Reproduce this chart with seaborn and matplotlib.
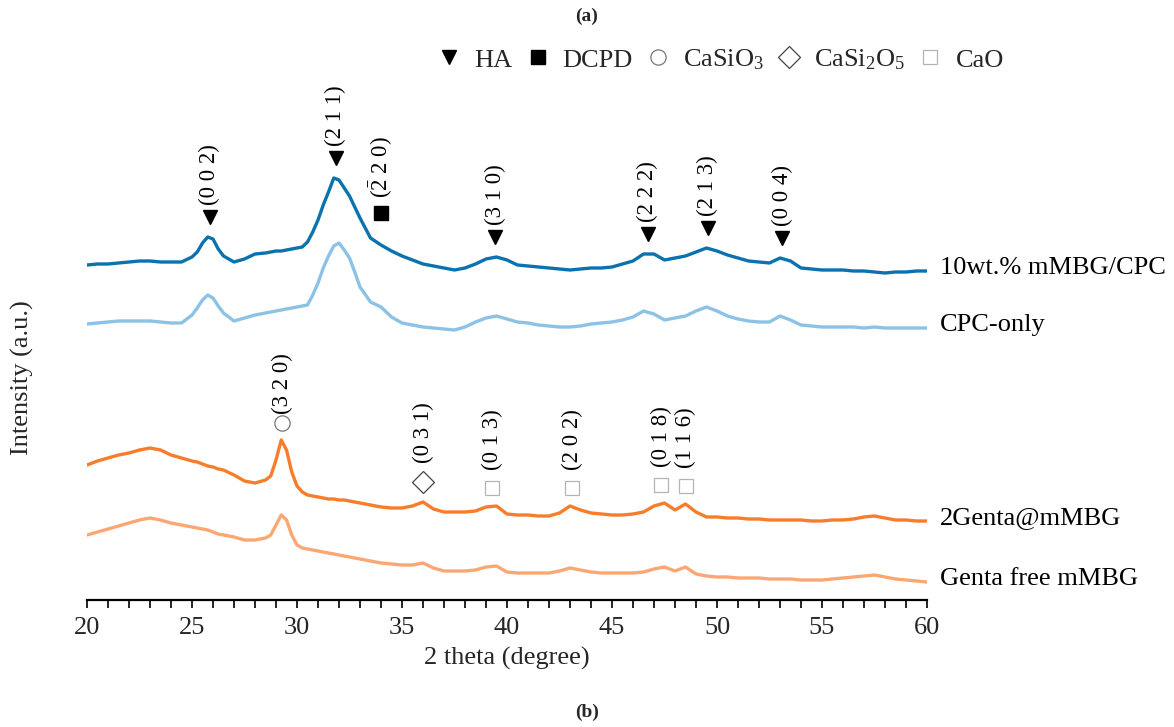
import numpy as np
import matplotlib
matplotlib.use("Agg")
import matplotlib.pyplot as plt
from matplotlib.lines import Line2D
from matplotlib.ticker import MultipleLocator
import seaborn as sns

# ---------------- data ----------------
two_theta = ([20, 20.5, 21, 21.5, 22, 22.5, 23, 23.5, 24, 24.5, 25]
             + [25.25, 25.5, 25.75, 26, 26.25, 26.5]
             + [27, 27.5, 28, 28.5]
             + [28.75, 29, 29.25, 29.5, 29.75, 30, 30.25, 30.5, 30.75, 31,
                31.25, 31.5, 31.75, 32, 32.25, 32.5, 32.75, 33]
             + [33.5, 34, 34.5, 35, 35.5, 36, 36.5, 37, 37.5, 38, 38.5, 39, 39.5,
                40, 40.5, 41, 41.5, 42, 42.5, 43, 43.5, 44, 44.5, 45, 45.5, 46, 46.5,
                47, 47.5, 48, 48.5, 49, 49.5, 50, 50.5, 51, 51.5, 52, 52.5, 53, 53.5,
                54, 54.5, 55, 55.5, 56, 56.5, 57, 57.5, 58, 58.5, 59, 59.5, 60])

mmbg_cpc = ([335, 336, 336, 337, 338, 339, 339, 338, 338, 338, 343]
            + [348, 357, 363, 361, 351, 344]
            + [338, 341, 346, 347]
            + [348, 349, 349, 350, 351, 352, 353, 358, 368, 380, 395, 408, 422,
               420, 412, 404, 393, 382]
            + [362, 355, 349, 344, 340, 336, 334, 332, 330, 332, 336, 341, 343,
               340, 335, 334, 333, 332, 331, 330, 331, 332, 332, 333, 336, 339, 346,
               346, 340, 342, 344, 348, 352, 349, 345, 342, 339, 338, 337, 342, 339,
               332, 331, 330, 330, 330, 329, 329, 328, 327, 328, 328, 329, 329])

cpc_only = ([276, 277, 278, 279, 279, 279, 279, 278, 277, 277, 285]
            + [292, 300, 305, 302, 294, 287]
            + [279, 282, 285, 287]
            + [288, 289, 290, 291, 292, 293, 294, 295, 305, 317, 332, 344, 354,
               357, 350, 342, 328, 313]
            + [298, 293, 283, 277, 275, 273, 272, 271, 270, 273, 278, 282, 284,
               281, 278, 277, 275, 274, 273, 273, 274, 276, 277, 278, 280, 283, 289,
               286, 280, 282, 284, 289, 293, 289, 284, 281, 279, 278, 278, 284, 280,
               275, 274, 273, 273, 273, 273, 272, 273, 272, 272, 272, 272, 272])

genta_mmbg = ([135, 139, 142, 145, 147, 150, 152, 150, 145, 142, 139]
              + [138, 136, 134, 133, 131, 130]
              + [125, 119, 117, 120]
              + [124, 140, 160, 150, 128, 114, 108, 105, 104, 103, 102, 101, 101,
                 100, 100, 99, 98, 97]
              + [95, 93, 92, 92, 94, 98, 91, 88, 88, 88, 89, 93, 94,
                 86, 85, 85, 84, 84, 87, 94, 90, 87, 86, 85, 85, 86, 88,
                 94, 97, 90, 96, 88, 83, 83, 82, 82, 81, 81, 80, 80, 80,
                 80, 79, 79, 80, 80, 81, 83, 84, 82, 80, 80, 79, 79])

genta_free = ([65, 68, 71, 74, 77, 80, 82, 80, 77, 75, 73]
              + [72, 71, 70, 68, 66, 65]
              + [63, 60, 60, 62]
              + [65, 75, 85, 80, 65, 55, 52, 51, 50, 49, 48, 47, 46, 45, 44, 43,
                 42, 41]
              + [39, 37, 36, 35, 35, 37, 32, 29, 29, 29, 30, 33, 34,
                 28, 27, 27, 27, 27, 29, 32, 30, 28, 27, 27, 27, 27, 28,
                 31, 33, 29, 33, 26, 24, 23, 23, 22, 22, 22, 21, 21, 21,
                 20, 20, 20, 21, 22, 23, 24, 25, 23, 21, 20, 19, 18])

series_names = ["10wt.% mMBG/CPC", "CPC-only", "2Genta@mMBG", "Genta free mMBG"]
series_values = [mmbg_cpc, cpc_only, genta_mmbg, genta_free]
series_colors = ["#0a72ae", "#8cc2e6", "#f77d2b", "#fba774"]

for v in series_values:
    assert len(v) == len(two_theta), (len(v), len(two_theta))

# peak annotations: (position, label)
ha_peaks = [25.85, 31.85, 39.45, 46.7, 49.55, 53.1]
ha_labels = ["(0 0 2)", "(2 1 1)", "(3 1 0)", "(2 2 2)", "(2 1 3)", "(0 0 4)"]
dcpd_peaks = [34.0]
dcpd_labels = [r"($\bar{2}$ 2 0)"]
casio3_peaks = [29.3]
casio3_labels = ["(3 2 0)"]
casi2o5_peaks = [36.0]
casi2o5_labels = ["(0 3 1)"]
cao_peaks = [39.3, 43.1, 47.35, 48.5]
cao_labels = ["(0 1 3)", "(2 0 2)", "(0 1 8)", "(1 1 6)"]

legend_names = ["HA", "DCPD", "CaSiO$_3$", "CaSi$_2$O$_5$", "CaO"]

# ---------------- style ----------------
sns.set_theme(style="white")
plt.rcParams["font.family"] = ["Liberation Serif", "DejaVu Serif"]
plt.rcParams["mathtext.fontset"] = "custom"
plt.rcParams["mathtext.rm"] = "Liberation Serif"
plt.rcParams["mathtext.it"] = "Liberation Serif:italic"
plt.rcParams["mathtext.bf"] = "Liberation Serif:bold"

W, H = 1174, 727
fig = plt.figure(figsize=(W / 100, H / 100), dpi=100)
ax_left, ax_right, ax_bottom_px, ax_top_px = 87, 927, 600, 80
ax = fig.add_axes([ax_left / W, (H - ax_bottom_px) / H,
                   (ax_right - ax_left) / W, (ax_bottom_px - ax_top_px) / H])

x = np.array(two_theta, dtype=float)
for name, vals, col in zip(series_names, series_values, series_colors):
    sns.lineplot(x=x, y=np.array(vals, dtype=float), ax=ax, color=col,
                 linewidth=2.4, sort=False, estimator=None)
    ax.annotate(name, xy=(x[-1], vals[-1]), xytext=(9, 2),
                textcoords="offset points", ha="left", va="center",
                fontsize=19, color="black", annotation_clip=False)

ax.set_xlim(20, 60)
ax.set_ylim(0, ax_bottom_px - ax_top_px)


def mark(peaks, labels, series, marker, mkw, off, gap):
    vals = np.array(series, dtype=float)
    for p, lab in zip(peaks, labels):
        win = (x >= p - 0.4) & (x <= p + 0.4)
        top = vals[win].max() if win.any() else np.interp(p, x, vals)
        ym = top + off
        ax.plot([p], [ym], marker=marker, linestyle="none", clip_on=False, **mkw)
        ax.text(p, ym + gap, lab, rotation=90, ha="center", va="bottom",
                fontsize=16.5, color="black", clip_on=False)


tri = dict(color="black", markersize=10)
sq = dict(color="black", markersize=10)
circ = dict(markerfacecolor="white", markeredgecolor="#777777", markeredgewidth=0.9,
            markersize=11)
dia = dict(markerfacecolor="white", markeredgecolor="#444444", markeredgewidth=0.9,
           markersize=11)
osq = dict(markerfacecolor="white", markeredgecolor="#b5b5b5", markeredgewidth=0.9,
           markersize=10)

mark(ha_peaks, ha_labels, mmbg_cpc, "v", tri, 20, 12)
mark(dcpd_peaks, dcpd_labels, mmbg_cpc, "s", sq, 32, 15)
mark(casio3_peaks, casio3_labels, genta_mmbg, "o", circ, 17, 9)
mark(casi2o5_peaks, casi2o5_labels, genta_mmbg, "D", dia, 20, 19)
mark(cao_peaks, cao_labels, genta_mmbg, "s", osq, 18, 18)

# axes styling
for s in ["left", "top", "right"]:
    ax.spines[s].set_visible(False)
ax.spines["bottom"].set_color("black")
ax.spines["bottom"].set_linewidth(1.6)
ax.xaxis.set_major_locator(MultipleLocator(5))
ax.xaxis.set_minor_locator(MultipleLocator(1))
ax.tick_params(axis="x", which="both", direction="out", length=6, width=1.2,
               color="black", bottom=True, labelsize=19, pad=6)
ax.tick_params(axis="y", left=False, labelleft=False)
ax.set_xlabel("2 theta (degree)", fontsize=19, labelpad=6)
ax.set_ylabel("Intensity (a.u.)", fontsize=19)
ax.yaxis.set_label_coords(-0.063, 0.427)
ax.set_facecolor("white")
fig.patch.set_facecolor("white")

# legend
handles = [
    Line2D([], [], marker="v", linestyle="none", **tri),
    Line2D([], [], marker="s", linestyle="none", **sq),
    Line2D([], [], marker="o", linestyle="none", **circ),
    Line2D([], [], marker="D", linestyle="none", **dia),
    Line2D([], [], marker="s", linestyle="none", **osq),
]
fig.legend(handles, legend_names, loc="center", ncol=5, frameon=False,
           bbox_to_anchor=(720 / W, 1 - 60 / H), fontsize=19,
           handlelength=1.0, handletextpad=0.45, columnspacing=0.45)

fig.text(587 / W, 1 - 16 / H, "(a)", ha="center", va="center", fontsize=14,
         fontweight="bold")
fig.text(587 / W, 1 - 712 / H, "(b)", ha="center", va="center", fontsize=14,
         fontweight="bold")

fig.savefig("out.png", dpi=100, facecolor="white")
